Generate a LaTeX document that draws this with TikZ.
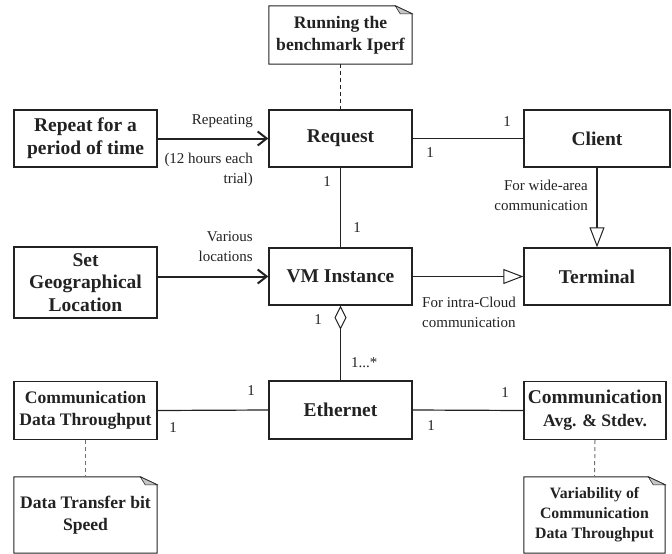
\documentclass[tikz,border=0pt]{standalone}
\usepackage{fontspec}
\setmainfont{Liberation Serif}
\usetikzlibrary{arrows.meta}
\definecolor{ink}{HTML}{222222}
\definecolor{dgray}{HTML}{707070}
\newcommand{\bigf}{\fontsize{19.5}{22.7}\selectfont\rmfamily\bfseries}
\newcommand{\medf}{\fontsize{17.6}{22}\selectfont\rmfamily\bfseries}
\newcommand{\smnf}{\fontsize{15.8}{20}\selectfont\rmfamily\bfseries}
\newcommand{\labf}{\fontsize{15}{20}\selectfont\rmfamily\mdseries}
\begin{document}
\begin{tikzpicture}[x=1pt,y=-1pt,
  box/.style={draw=ink, line width=1.4pt, inner sep=0pt, align=center, text=ink, font=\bigf},
  notebox/.style={inner sep=0pt, align=center, text=ink, font=\medf},
  noteline/.style={draw=ink, line width=1pt},
  foldtri/.style={draw=ink, line width=0.6pt, fill=gray!45},
  lab/.style={inner sep=0pt, text=ink, font=\labf},
  assoc/.style={draw=ink, line width=1.2pt},
  navarrow/.style={draw=ink, line width=2pt, -{Straight Barb[length=9pt,width=14pt,line width=2pt]}},
  genarrow/.style={draw=ink, line width=1.2pt, -{Triangle[open,length=20pt,width=15pt,line width=1pt,fill=white]}},
  aggr/.style={draw=ink, line width=1.2pt, {Diamond[open,length=24pt,width=12pt,line width=1pt,fill=white]}-},
  dashline/.style={draw=ink, line width=1pt, dash pattern=on 4pt off 3pt},
  dashgray/.style={draw=dgray, line width=1pt, dash pattern=on 4pt off 3pt}
]
\useasboundingbox (0,0) rectangle (672,554);

% notes
\node[notebox, minimum width=143pt, minimum height=58pt] (n1) at (340.5,35) {Running the\\benchmark Iperf};
\node[notebox, minimum width=143pt, minimum height=76pt] (n2) at (85.5,515) {Data Transfer bit\\Speed};
\node[notebox, font=\smnf, minimum width=141pt, minimum height=76pt] (n3) at (594.5,515) {Variability of\\Communication\\Data Throughput};
\foreach \n in {n1,n2,n3}{
  \draw[noteline] (\n.south west) -- (\n.north west) -- ([xshift=-17pt]\n.north east)
     -- ([yshift=-8pt]\n.north east) -- (\n.south east) -- cycle;
  \draw[foldtri] ([xshift=-17pt]\n.north east) -- ([xshift=-12pt,yshift=-8pt]\n.north east)
     -- ([yshift=-8pt]\n.north east) -- cycle;
}

% boxes
\node[box, minimum width=143pt, minimum height=57pt] (rep) at (85.5,138.5) {Repeat for a\\period of time};
\node[box, minimum width=143pt, minimum height=57pt] (req) at (340.5,138.5) {Request};
\node[box, minimum width=146pt, minimum height=57pt] (cli) at (597,138.5) {Client};
\node[box, minimum width=143pt, minimum height=71pt] (geo) at (85.5,282.5) {Set\\Geographical\\Location};
\node[box, minimum width=143pt, minimum height=57pt] (vm) at (340.5,276.5) {VM Instance};
\node[box, minimum width=146pt, minimum height=57pt] (term) at (597,276.5) {Terminal};
\node[box, minimum width=143pt, minimum height=58pt] (eth) at (340.5,410) {Ethernet};
\node[box, font=\medf, minimum width=143pt, minimum height=58pt] (cdt) at (85.5,410.5) {Communication\\Data Throughput};
\node[box, minimum width=142pt, minimum height=58pt] (cavg) at (595,410.5) {Communication\\{\medf Avg. \& Stdev.}};

% connectors
\draw[dashline] (n1.south) -- (req.north);
\draw[dashgray] (cdt.south) -- (n2.north);
\draw[dashgray] (cavg.south) -- (n3.north);
\draw[navarrow] (rep.east) -- (req.west);
\draw[navarrow] (geo.east |- vm.west) -- (vm.west);
\draw[assoc] (req.east) -- (cli.west);
\draw[assoc] (req.south) -- (vm.north);
\draw[genarrow] (cli.south) -- (term.north);
\draw[genarrow] (vm.east) -- (term.west);
\draw[aggr] (vm.south) -- (eth.north);
\draw[assoc] (cdt.east) -- (eth.west);
\draw[assoc] (eth.east) -- (cavg.west);

% labels
\node[lab, anchor=east] (lrep) at (253,121) {Repeating};
\node[lab, anchor=east, align=right] (l12) at (253,170) {(12 hours each\\trial)};
\node[lab, anchor=east, align=right] (lvar) at (253,247) {Various\\locations};
\node[lab, anchor=east, align=right] (lwide) at (588,195) {For wide-area\\communication};
\node[lab, anchor=west, align=left] (lintra) at (422,312) {For intra-Cloud\\communication};
\node[lab] (m1) at (507,122) {1};
\node[lab] (m2) at (430,153) {1};
\node[lab] (m3) at (327,182) {1};
\node[lab] (m4) at (357,228) {1};
\node[lab] (m5) at (318,320) {1};
\node[lab, anchor=west] (m6) at (351,363) {1...*};
\node[lab] (m7) at (251,391) {1};
\node[lab] (m8) at (173,428) {1};
\node[lab] (m9) at (505,393) {1};
\node[lab] (m10) at (431,426) {1};
\end{tikzpicture}
\end{document}
